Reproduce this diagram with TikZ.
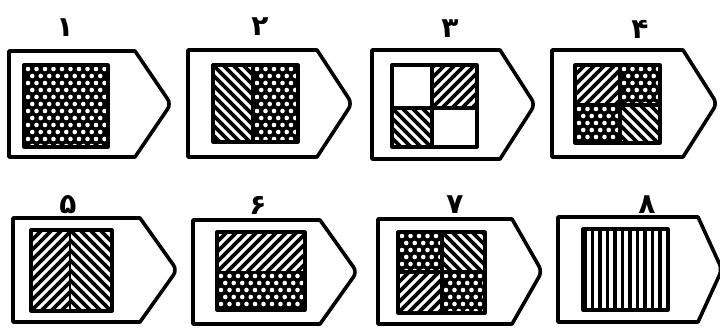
\documentclass[tikz,border=0pt]{standalone}
\usepackage{fontspec}
\newfontfamily\fanum[Script=Arabic]{DejaVu Sans}
\tikzset{
  outl/.style={draw=black,line width=3.6pt,line join=round,fill=white},
  innerbox/.style={draw=black,line width=3.2pt,line join=round},
  hatchline/.style={draw=black,line width=3.8pt},
  numlabel/.style={font=\fanum\bfseries\fontsize{28}{28}\selectfont,inner sep=0pt,anchor=base}
}
\newcommand\celldots[4]{%
  \begin{scope}
    \clip (#1,#2) rectangle (#3,#4);
    \fill[black] (#1,#2) rectangle (#3,#4);
    \foreach \j in {0,...,13}{%
      \foreach \i in {0,...,11}{%
        \fill[white] ({#1+4+\i*8.5+mod(\j,2)*4.25},{#2+4+\j*7}) circle[radius=2.3pt];
      }}
  \end{scope}}
\newcommand\cellback[4]{% "\" hatch
  \begin{scope}
    \clip (#1,#2) rectangle (#3,#4);
    \fill[white] (#1,#2) rectangle (#3,#4);
    \foreach \t in {-100,-90,...,100}{%
      \draw[hatchline] ({#1+\t},#2) -- ({#1+\t+110},{#2+110});
    }
  \end{scope}}
\newcommand\cellfwd[4]{% "/" hatch
  \begin{scope}
    \clip (#1,#2) rectangle (#3,#4);
    \fill[white] (#1,#2) rectangle (#3,#4);
    \foreach \t in {-100,-90,...,100}{%
      \draw[hatchline] ({#1+\t},#4) -- ({#1+\t+110},{#4-110});
    }
  \end{scope}}
\newcommand\cellvert[4]{%
  \begin{scope}
    \clip (#1,#2) rectangle (#3,#4);
    \fill[white] (#1,#2) rectangle (#3,#4);
    \foreach \t in {0,...,12}{%
      \draw[hatchline,line width=3.8pt] ({#1+2+\t*7.5},#2) -- ({#1+2+\t*7.5},#4);
    }
  \end{scope}}
% outline: L T B R X
\newcommand\tagshape[5]{%
  \draw[outl] (#1,#2) -- (#4,#2) [rounded corners=6pt]-- (#5,{(#2+#3)/2}) [sharp corners]-- (#4,#3) -- (#1,#3) -- cycle;}
\begin{document}
\begin{tikzpicture}[x=1pt,y=-1pt]
\useasboundingbox (0,0) rectangle (720,327);
% ---------- row 1 ----------
\tagshape{9}{51}{157}{135}{171}
\tagshape{188}{50}{157}{317}{352}
\tagshape{372}{50}{159}{500}{535}
\tagshape{552}{50}{157}{683}{717}
% ---------- row 2 ----------
\tagshape{13}{218}{322}{140}{177}
\tagshape{193}{220}{324}{320}{357}
\tagshape{378}{219}{324}{512}{542}
\tagshape{558}{217}{322}{698}{722}
% ---------- fills ----------
% 1
\celldots{24}{65}{108}{147}
\draw[innerbox] (24,65) rectangle (108,147);
% 2
\cellback{213}{65}{253}{142}
\celldots{253}{65}{298}{142}
\draw[innerbox] (213,65) rectangle (298,142);
\draw[innerbox] (253,65) -- (253,142);
% 3
\cellfwd{432}{65}{477}{108}
\cellback{392}{108}{432}{147}
\draw[innerbox] (392,65) rectangle (477,147);
\draw[innerbox] (432,65) -- (432,147);
\draw[innerbox] (392,108) -- (477,108);
% 4
\cellfwd{575}{65}{620}{105}
\celldots{620}{65}{660}{105}
\celldots{575}{105}{620}{143}
\cellback{620}{105}{660}{143}
\draw[innerbox] (575,65) rectangle (660,143);
\draw[innerbox] (620,65) -- (620,143);
\draw[innerbox] (575,105) -- (660,105);
% 5
\cellfwd{31}{230}{70}{311}
\cellback{70}{230}{112}{311}
\draw[innerbox] (31,230) rectangle (112,311);
\draw[black,line width=1.2pt] (70,230) -- (70,311);
% 6
\cellfwd{217}{232}{305}{272}
\celldots{217}{272}{305}{310}
\draw[innerbox] (217,232) rectangle (305,310);
\draw[black,line width=1.5pt] (217,272) -- (305,272);
% 7
\celldots{398}{232}{442}{272}
\cellback{442}{232}{485}{272}
\cellfwd{398}{272}{442}{313}
\celldots{442}{272}{485}{313}
\draw[innerbox] (398,232) rectangle (485,313);
\draw[innerbox] (442,232) -- (442,313);
\draw[innerbox] (398,272) -- (485,272);
% 8
\cellvert{583}{229}{668}{310}
\draw[innerbox] (583,229) rectangle (668,310);
% ---------- numerals ----------
\node[numlabel] (n1) at (65,36) {۱};
\node[numlabel] (n2) at (260,35) {۲};
\node[numlabel] (n3) at (450,37) {۳};
\node[numlabel] (n4) at (640,38) {۴};
\node[numlabel] (n5) at (68,213) {۵};
\node[numlabel] (n6) at (258,214) {۶};
\node[numlabel] (n7) at (455,213) {۷};
\node[numlabel] (n8) at (647,213) {۸};
\end{tikzpicture}
\end{document}
